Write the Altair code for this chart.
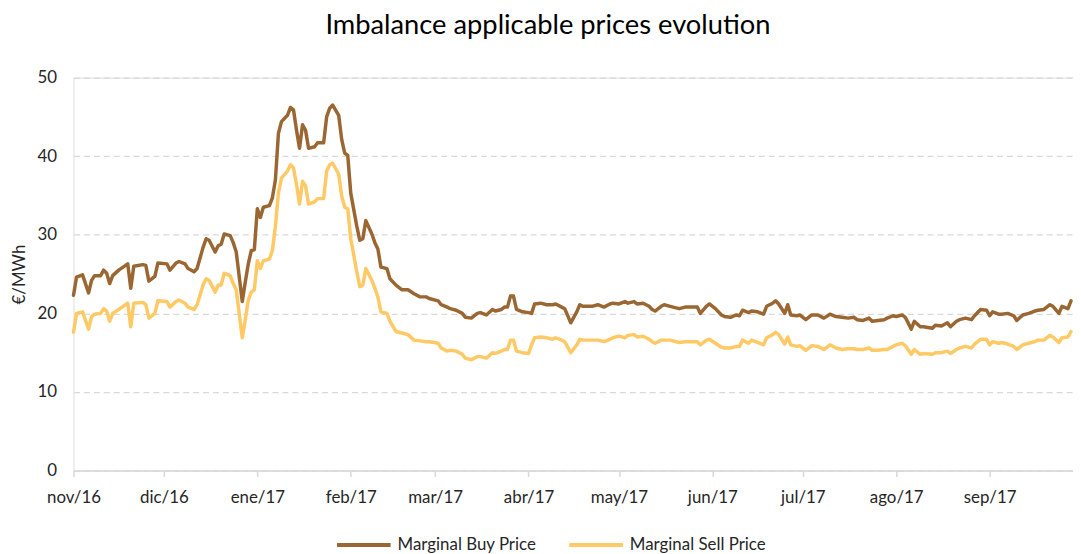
import altair as alt
import pandas as pd

# ---------------- data ----------------
dates = [
    "2016-11-01", "2016-11-02", "2016-11-04", "2016-11-06", "2016-11-07", "2016-11-08", "2016-11-10",
    "2016-11-11", "2016-11-12", "2016-11-13", "2016-11-14", "2016-11-16", "2016-11-19", "2016-11-20",
    "2016-11-21", "2016-11-24", "2016-11-25", "2016-11-26", "2016-11-28", "2016-11-29",
    "2016-12-02", "2016-12-03", "2016-12-05", "2016-12-06", "2016-12-08", "2016-12-09", "2016-12-11",
    "2016-12-12", "2016-12-14", "2016-12-15", "2016-12-16", "2016-12-18", "2016-12-19", "2016-12-20",
    "2016-12-21", "2016-12-23", "2016-12-24", "2016-12-25", "2016-12-27", "2016-12-28", "2016-12-29",
    "2016-12-30", "2016-12-31",
    "2017-01-01", "2017-01-02", "2017-01-03", "2017-01-05", "2017-01-06", "2017-01-07", "2017-01-08",
    "2017-01-09", "2017-01-11", "2017-01-12", "2017-01-13", "2017-01-14", "2017-01-15", "2017-01-16",
    "2017-01-17", "2017-01-18", "2017-01-20", "2017-01-21", "2017-01-23", "2017-01-24", "2017-01-25",
    "2017-01-26", "2017-01-28", "2017-01-29", "2017-01-30", "2017-01-31",
    "2017-02-01", "2017-02-03", "2017-02-04", "2017-02-05", "2017-02-06", "2017-02-08", "2017-02-09",
    "2017-02-10", "2017-02-11", "2017-02-13", "2017-02-14", "2017-02-16", "2017-02-18", "2017-02-20",
    "2017-02-22", "2017-02-24", "2017-02-26", "2017-02-27",
    "2017-03-02", "2017-03-03", "2017-03-05", "2017-03-06", "2017-03-08", "2017-03-10", "2017-03-11",
    "2017-03-13", "2017-03-15", "2017-03-16", "2017-03-18", "2017-03-20", "2017-03-21", "2017-03-23",
    "2017-03-24", "2017-03-25", "2017-03-26", "2017-03-27", "2017-03-28", "2017-03-30",
    "2017-04-01", "2017-04-02", "2017-04-03", "2017-04-05", "2017-04-07", "2017-04-09", "2017-04-10",
    "2017-04-12", "2017-04-13", "2017-04-15", "2017-04-17", "2017-04-18", "2017-04-19", "2017-04-22",
    "2017-04-24", "2017-04-26", "2017-04-28", "2017-04-29",
    "2017-05-01", "2017-05-03", "2017-05-04", "2017-05-06", "2017-05-07", "2017-05-09", "2017-05-11",
    "2017-05-12", "2017-05-13", "2017-05-15", "2017-05-16", "2017-05-18", "2017-05-21", "2017-05-23",
    "2017-05-25", "2017-05-27", "2017-05-28", "2017-05-30", "2017-05-31",
    "2017-06-02", "2017-06-04", "2017-06-05", "2017-06-07", "2017-06-09", "2017-06-10", "2017-06-11",
    "2017-06-13", "2017-06-14", "2017-06-16", "2017-06-18", "2017-06-19", "2017-06-21", "2017-06-22",
    "2017-06-23", "2017-06-25", "2017-06-26", "2017-06-27", "2017-06-29", "2017-06-30",
    "2017-07-02", "2017-07-04", "2017-07-06", "2017-07-08", "2017-07-10", "2017-07-12", "2017-07-14",
    "2017-07-16", "2017-07-18", "2017-07-19", "2017-07-21", "2017-07-23", "2017-07-24", "2017-07-26",
    "2017-07-28", "2017-07-29", "2017-07-31",
    "2017-08-01", "2017-08-03", "2017-08-04", "2017-08-06", "2017-08-07", "2017-08-09", "2017-08-10",
    "2017-08-13", "2017-08-14", "2017-08-16", "2017-08-18", "2017-08-19", "2017-08-21", "2017-08-22",
    "2017-08-24", "2017-08-26", "2017-08-27", "2017-08-29", "2017-08-31",
    "2017-09-01", "2017-09-02", "2017-09-04", "2017-09-05", "2017-09-07", "2017-09-09", "2017-09-10",
    "2017-09-12", "2017-09-14", "2017-09-16", "2017-09-17", "2017-09-19", "2017-09-21", "2017-09-22",
    "2017-09-24", "2017-09-25", "2017-09-27", "2017-09-28",
]

buy_price = [
    22.3, 24.6, 24.9, 22.6, 24.2, 24.8, 24.8, 25.5, 25.1, 23.8, 24.8, 25.5, 26.3, 23.2, 26.0, 26.2, 26.1, 24.1, 24.7, 26.4,
    26.3, 25.5, 26.4, 26.6, 26.3, 25.7, 25.3, 25.7, 28.4, 29.5, 29.3, 27.8, 28.6, 28.8, 30.1, 29.9, 29.0, 27.8, 21.5, 24.0,
    26.3, 28.0, 28.1,
    33.3, 32.2, 33.5, 33.7, 34.7, 37.0, 42.9, 44.4, 45.2, 46.2, 45.9, 43.3, 41.0, 44.0, 43.3, 41.0, 41.2, 41.7, 41.7, 45.0,
    46.1, 46.5, 45.2, 42.1, 40.4, 40.1,
    35.3, 31.1, 29.3, 29.5, 31.8, 30.1, 29.0, 28.2, 25.9, 25.7, 24.4, 23.6, 23.0, 23.0, 22.5, 22.1, 22.1, 21.9,
    21.6, 21.1, 20.8, 20.6, 20.4, 20.0, 19.5, 19.4, 20.0, 20.1, 19.8, 20.5, 20.3, 20.5, 20.8, 20.8, 22.2, 22.2, 20.5, 20.2,
    20.1, 20.0, 21.2, 21.3, 21.1, 21.1, 21.2, 20.8, 20.6, 18.8, 20.2, 21.1, 20.9, 20.9, 21.1, 20.8, 21.2, 21.3,
    21.2, 21.5, 21.3, 21.5, 21.2, 21.3, 20.9, 20.5, 20.3, 20.9, 21.1, 20.9, 20.6, 20.8, 20.8, 20.8, 20.0, 20.9, 21.2,
    20.6, 19.8, 19.6, 19.5, 19.8, 19.7, 20.4, 20.1, 20.3, 20.2, 19.9, 20.9, 21.3, 21.6, 21.2, 20.0, 21.1, 19.8, 19.7, 19.8,
    19.2, 19.8, 19.8, 19.4, 19.9, 19.6, 19.5, 19.4, 19.5, 19.2, 19.1, 19.4, 19.0, 19.1, 19.2, 19.4, 19.7,
    19.6, 19.8, 19.5, 18.0, 19.0, 18.3, 18.3, 18.1, 18.5, 18.4, 18.8, 18.3, 19.0, 19.2, 19.4, 19.2, 19.7, 20.5, 20.4,
    19.7, 20.2, 19.9, 19.9, 20.0, 19.7, 19.1, 19.8, 20.0, 20.3, 20.4, 20.5, 21.1, 20.9, 20.0, 20.9, 20.6, 21.6,
]

sell_price = [
    17.6, 20.0, 20.2, 18.0, 19.6, 19.9, 20.0, 20.6, 20.3, 19.0, 20.0, 20.5, 21.3, 18.3, 21.3, 21.4, 21.1, 19.4, 20.0, 21.6,
    21.5, 20.8, 21.5, 21.7, 21.3, 20.8, 20.5, 21.1, 23.6, 24.4, 24.2, 22.7, 23.6, 23.6, 25.1, 24.8, 23.8, 23.0, 16.9, 19.2,
    21.7, 22.7, 23.0,
    26.7, 25.7, 26.7, 26.9, 28.0, 31.1, 35.3, 37.2, 38.1, 38.9, 38.5, 36.4, 33.9, 36.8, 36.2, 33.9, 34.2, 34.6, 34.6, 38.1,
    38.9, 39.1, 37.7, 34.9, 33.5, 33.3,
    29.5, 25.3, 23.4, 23.6, 25.7, 24.2, 23.2, 22.1, 20.2, 20.0, 19.0, 17.7, 17.5, 17.3, 16.6, 16.5, 16.4, 16.4,
    16.2, 15.6, 15.2, 15.3, 15.2, 14.8, 14.3, 14.1, 14.5, 14.5, 14.3, 15.0, 14.9, 15.2, 15.4, 15.4, 16.6, 16.6, 15.2, 15.0,
    14.9, 16.0, 16.9, 17.0, 16.9, 16.7, 16.9, 16.6, 16.4, 15.0, 16.0, 16.7, 16.6, 16.6, 16.6, 16.4, 16.7, 16.9,
    17.1, 16.9, 17.2, 17.3, 17.0, 17.1, 16.7, 16.4, 16.2, 16.6, 16.6, 16.6, 16.3, 16.4, 16.4, 16.4, 16.0, 16.6, 16.7,
    16.2, 15.7, 15.6, 15.6, 15.8, 15.8, 16.6, 16.2, 16.6, 16.3, 16.0, 16.9, 17.3, 17.6, 17.3, 16.1, 17.0, 16.0, 15.8, 15.9,
    15.3, 15.9, 15.8, 15.4, 16.0, 15.6, 15.4, 15.5, 15.5, 15.4, 15.4, 15.6, 15.3, 15.3, 15.4, 15.4, 15.8,
    16.0, 16.2, 15.9, 14.8, 15.4, 14.8, 14.9, 14.8, 15.0, 15.0, 15.2, 14.9, 15.4, 15.6, 15.8, 15.6, 16.1, 16.7, 16.7,
    16.0, 16.4, 16.2, 16.3, 16.1, 15.8, 15.4, 16.0, 16.2, 16.4, 16.6, 16.6, 17.2, 17.0, 16.3, 16.9, 17.0, 17.7,
]

assert len(dates) == len(buy_price) == len(sell_price)

series_names = ["Marginal Buy Price", "Marginal Sell Price"]
series_colors = ["#9A6632", "#FFC965"]

month_ticks = [
    "2016-11-01", "2016-12-01", "2017-01-01", "2017-02-01", "2017-03-01", "2017-04-01",
    "2017-05-01", "2017-06-01", "2017-07-01", "2017-08-01", "2017-09-01",
]
x_start = "2016-11-01"
x_end = "2017-09-28T16:00:00"
y_ticks = [0, 10, 20, 30, 40, 50]

title_text = "Imbalance applicable prices evolution"
y_title = "€/MWh"

# ---------------- chart ----------------
def ms(s):
    return int(pd.Timestamp(s, tz="UTC").value // 10**6)

n = len(dates)
df = pd.DataFrame({
    "date": dates + dates,
    "price": buy_price + sell_price,
    "series": [series_names[0]] * n + [series_names[1]] * n,
})

FONT = "Lato"
TXT = "#262626"

month_expr = ("['ene','feb','mar','abr','may','jun','jul','ago','sep','oct','nov','dic']"
              "[utcmonth(datum.value)] + '/' + utcFormat(datum.value, '%y')")

W, H = 1007, 396

chart = alt.Chart(df).mark_line(
    strokeWidth=3.5, strokeJoin="round", strokeCap="round"
).encode(
    x=alt.X(
        "date:T",
        scale=alt.Scale(type="utc", domain=[ms(x_start), ms(x_end)], nice=False),
        axis=alt.Axis(
            title=None,
            values=[ms(d) for d in month_ticks],
            labelExpr=month_expr,
            grid=False,
            domainColor="#D9D9D9", domainWidth=1.5,
            tickColor="#D9D9D9", tickWidth=1.5, tickSize=6,
            labelFont=FONT, labelFontSize=17, labelColor=TXT,
            labelBaseline="alphabetic", labelPadding=26,
            labelAlign="center", labelOverlap=False, labelFlush=False,
        ),
    ),
    y=alt.Y(
        "price:Q",
        scale=alt.Scale(domain=[0, 50], nice=False, zero=True),
        axis=alt.Axis(
            values=y_ticks,
            title=y_title,
            grid=True, gridColor="#D9D9D9", gridDash=[6, 4], gridWidth=1.2,
            domain=False, ticks=False,
            labelFont=FONT, labelFontSize=17, labelColor=TXT, labelPadding=17,
            titleFont=FONT, titleFontSize=17, titleFontWeight="normal", titleColor=TXT,
            titleAngle=270, titleAlign="center", titleBaseline="middle",
            titleX=-54.5, titleY=H / 2,
        ),
    ),
    color=alt.Color(
        "series:N",
        scale=alt.Scale(domain=series_names, range=series_colors),
        legend=alt.Legend(
            title=None, orient="none", direction="horizontal",
            legendX=263.5, legendY=442,
            symbolType="stroke", symbolSize=2916, symbolStrokeWidth=4,
            labelFont=FONT, labelFontSize=17, labelColor=TXT, labelOffset=5,
            labelBaseline="middle",
            columnPadding=25, padding=0,
        ),
    ),
).properties(
    width=W,
    height=H,
    title=alt.TitleParams(
        title_text, font=FONT, fontSize=27.5, fontWeight="normal", color="#000000",
        anchor="middle", frame="group", dx=-25.5, offset=29,
    ),
    autosize=alt.AutoSizeParams(type="none"),
    padding={"left": 66, "top": 68, "right": 0, "bottom": 90},
).configure_view(stroke=None).configure(background="white")

chart.save("out.html", embed_options={"renderer": "svg", "actions": False})
